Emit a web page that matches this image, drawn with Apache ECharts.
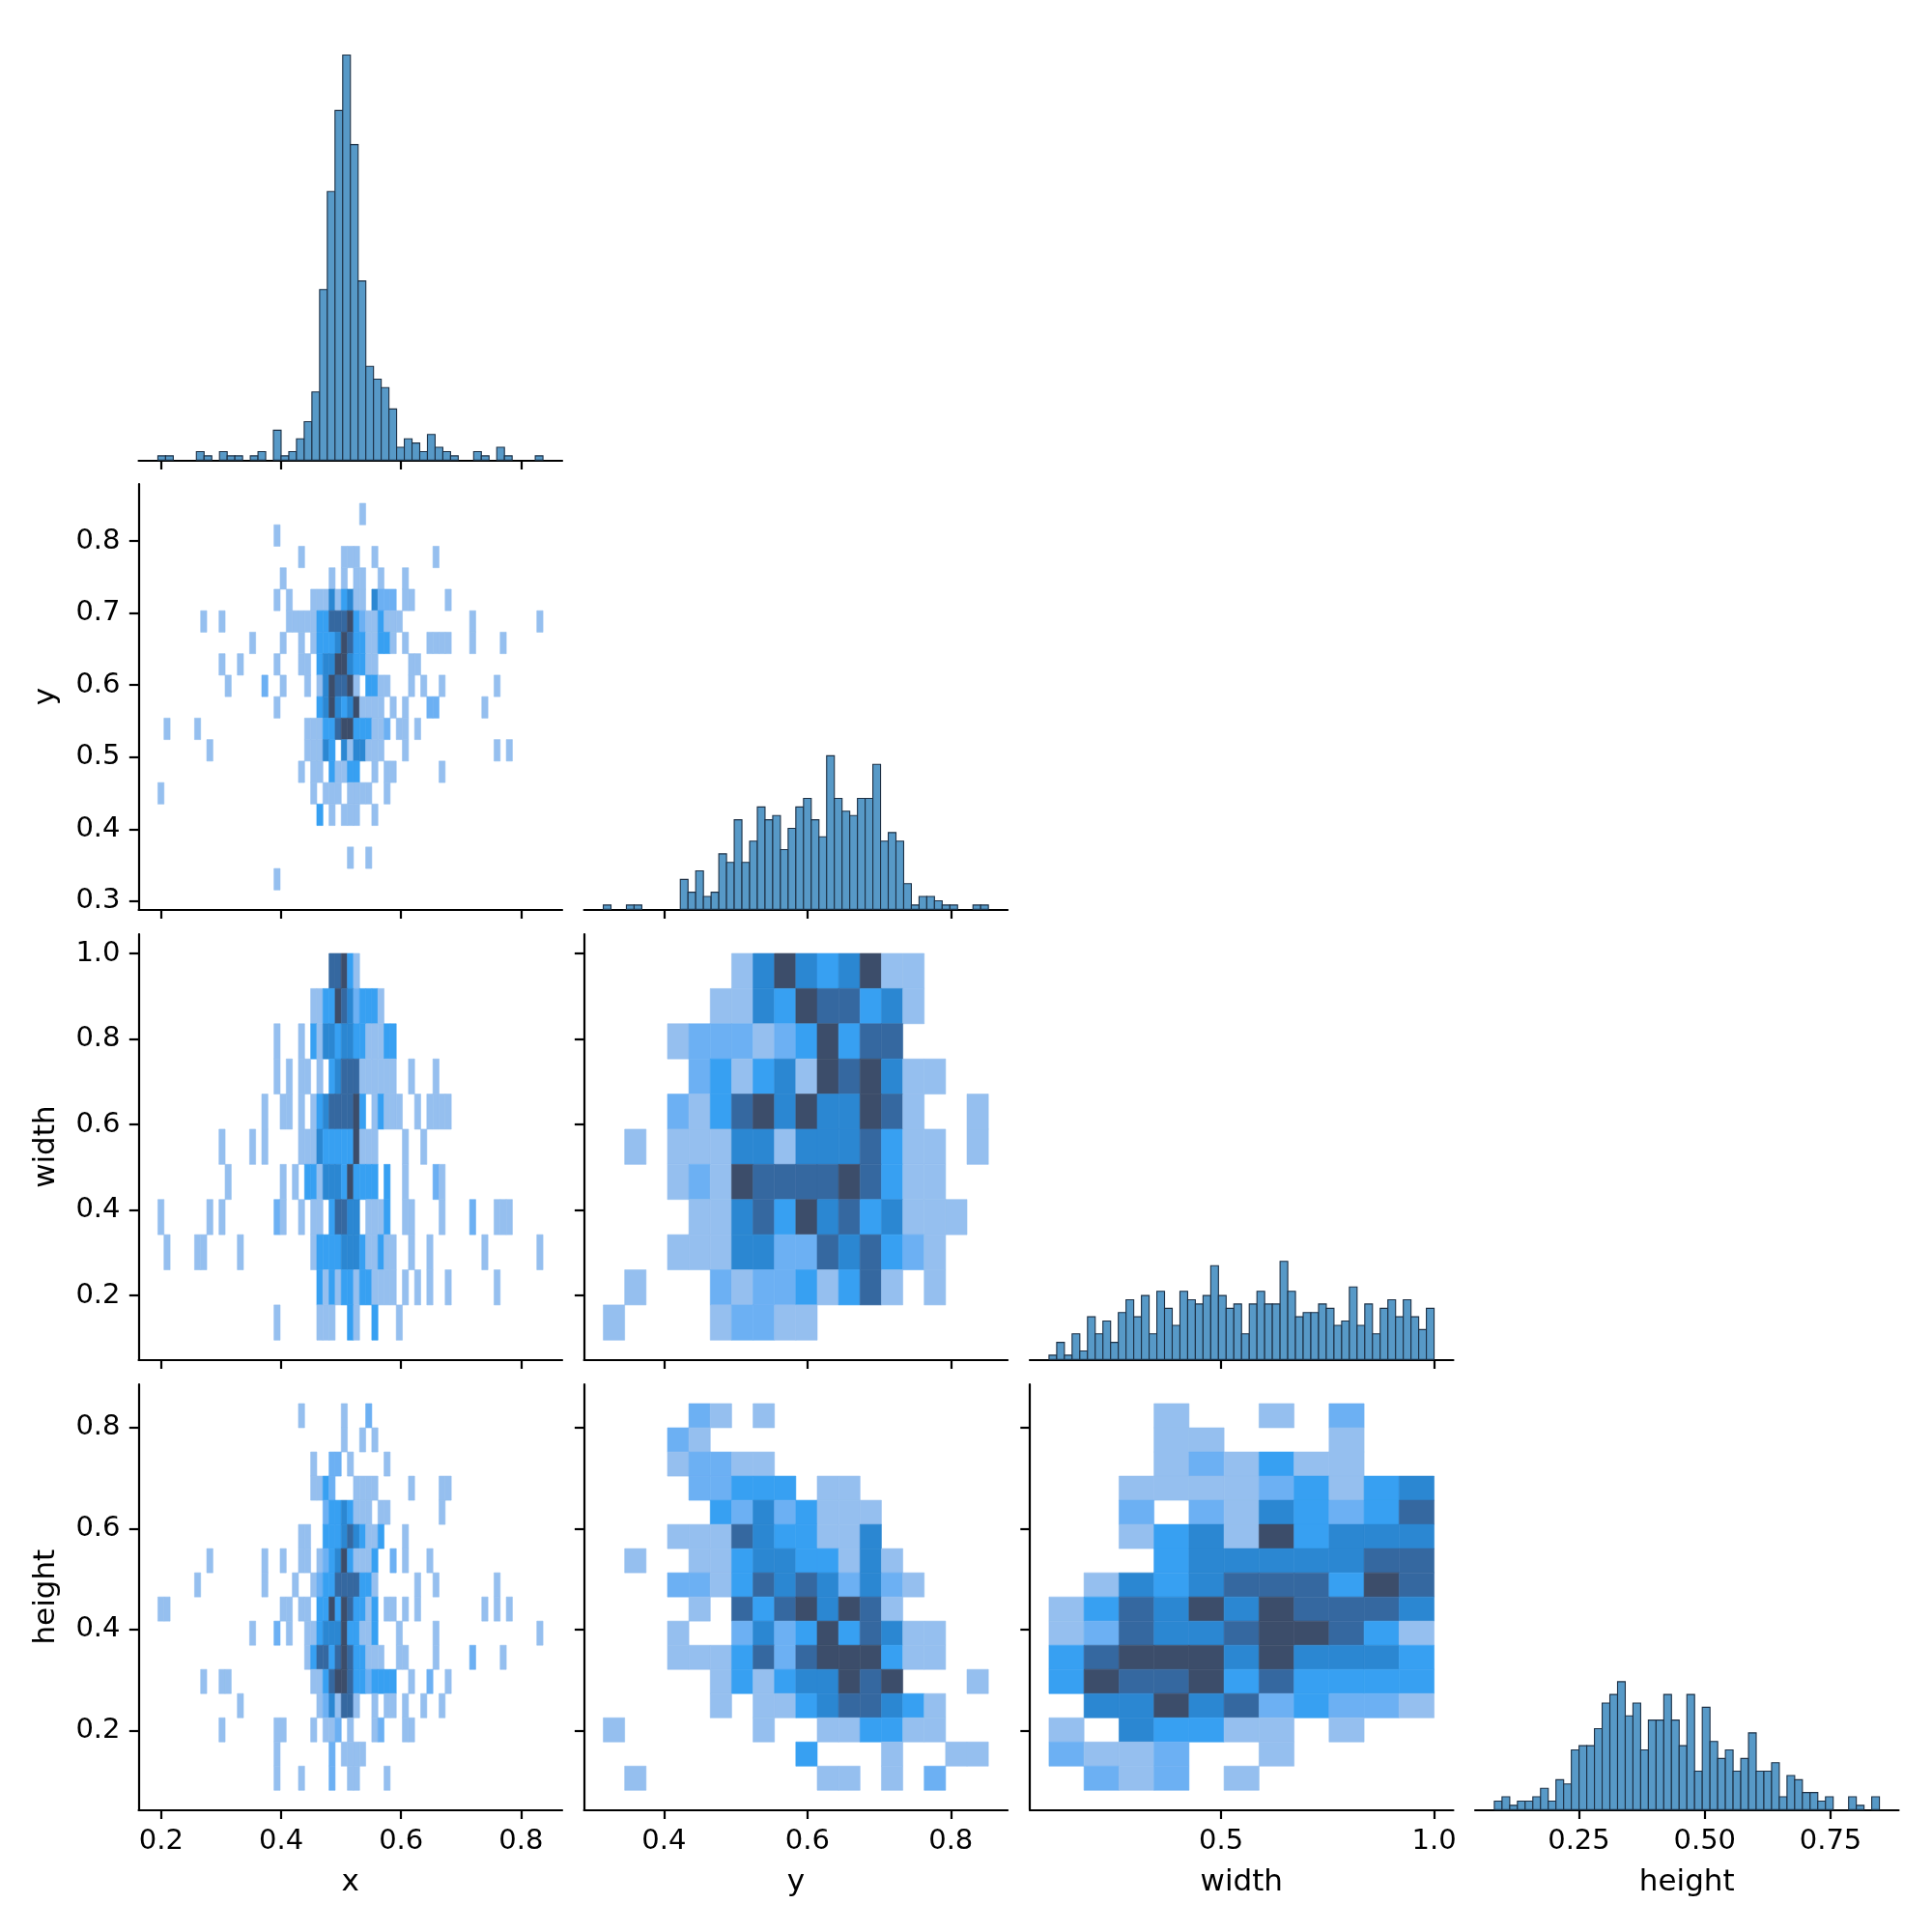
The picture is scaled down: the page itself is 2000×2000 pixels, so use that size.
<!DOCTYPE html>
<html>
<head>
<meta charset="utf-8">
<script src="https://cdn.jsdelivr.net/npm/echarts@6.0.0/dist/echarts.min.js"></script>
<style>
  html, body { margin: 0; background: #fff; }
  #chart { width: 2000px; height: 2000px; }
</style>
</head>
<body>
<div id="chart"></div>
<script>
// variable names in pair-grid order
const varNames = ['x', 'y', 'width', 'height'];

// data range of each variable (first and last bin edge)
const xRange = [0.1945, 0.8365];
const yRange = [0.3155, 0.8524];
const widthRange = [0.0956, 1.0];
const heightRange = [0.082, 0.847];

// diagonal histograms, 50 bins each
const xCounts = [1, 1, 0, 0, 0, 2, 1, 0, 2, 1, 1, 0, 1, 2, 0, 7, 1, 2, 5, 9,
  16, 40, 63, 82, 95, 74, 42, 22, 19, 17, 12, 3, 5, 4, 2, 6, 3, 2, 1, 0,
  0, 2, 1, 0, 3, 1, 0, 0, 0, 1];
const yCounts = [1, 0, 0, 1, 1, 0, 0, 0, 0, 0, 7, 4, 9, 3, 4, 13, 11, 21, 11, 16,
  24, 21, 22, 14, 19, 24, 26, 21, 17, 36, 26, 23, 22, 26, 26, 34, 16, 18, 16, 6,
  1, 3, 3, 2, 1, 1, 0, 0, 1, 1];
const widthCounts = [1, 4, 1, 6, 2, 10, 6, 9, 4, 11, 14, 10, 15, 6, 16, 12, 8, 16, 14, 13,
  15, 22, 15, 12, 13, 6, 13, 16, 13, 13, 23, 16, 10, 11, 11, 13, 12, 8, 9, 17,
  8, 13, 6, 12, 14, 10, 14, 10, 7, 12];
const heightCounts = [2, 3, 1, 2, 2, 3, 5, 2, 7, 6, 14, 15, 15, 19, 25, 27, 30, 22, 25, 14,
  21, 21, 27, 21, 15, 27, 9, 24, 16, 12, 14, 9, 12, 18, 9, 9, 11, 3, 8, 7,
  4, 4, 2, 3, 0, 0, 3, 1, 0, 3];

// number of bins used by the 2d histograms for each variable
const bins2d = [63, 18, 11, 16];

// 2d histogram shade levels (1 light .. 6 dark), top row first
// sparse rows: "column:level", dense rows: one digit per column
const xyCells = [
  '33:1',
  '19:1',
  '23:1,30:1,31:1,32:1,35:1,45:1',
  '20:1,28:1,30:1,32:1,33:1,36:1,40:1',
  '19:1,21:1,25:1,26:1,27:1,28:4,29:1,30:3,31:4,32:1,33:1,35:4,36:2,37:2,38:2,40:1,41:1,47:1',
  '7:1,10:1,21:1,22:1,23:1,24:1,25:1,26:3,27:3,28:5,29:5,30:5,31:6,32:3,33:2,34:1,35:1,36:3,37:1,38:1,39:1,51:1,62:1',
  '15:1,20:1,23:1,25:1,26:3,27:3,28:3,29:4,30:6,31:5,32:3,33:3,34:1,35:1,36:3,37:3,38:1,40:1,44:1,45:1,46:1,47:1,51:1,56:1',
  '10:1,13:1,19:1,23:1,24:1,26:3,27:4,28:4,29:6,30:6,31:4,32:3,33:3,34:1,35:1,41:1,42:1',
  '11:1,17:2,20:1,24:1,26:1,27:4,28:6,29:5,30:5,31:6,32:1,34:3,35:3,36:1,37:1,41:1,43:1,46:1,55:1',
  '19:1,26:3,27:4,28:6,29:4,30:3,31:4,32:6,33:1,34:1,35:1,36:1,38:1,40:1,44:2,45:2,53:1',
  '1:1,6:1,24:1,25:1,26:1,27:3,28:3,29:5,30:6,31:6,32:3,33:3,34:3,35:1,36:1,37:2,39:1,40:1,42:1',
  '8:1,24:1,25:1,26:1,27:4,28:3,30:4,31:1,32:4,33:4,34:1,35:1,36:1,40:1,55:1,57:1',
  '23:1,25:1,26:1,28:3,29:1,30:1,31:3,32:3,35:1,37:1,38:1,46:1',
  '0:1,25:1,27:1,28:1,29:1,31:1,32:1,33:1,34:1,37:1',
  '26:3,28:1,30:1,31:1,32:1,35:1',
  '',
  '31:1,34:1',
  '19:1'
];
const xwCells = [
  '28:5,29:5,30:6,31:3,32:1',
  '25:1,26:1,27:3,28:3,29:6,30:5,31:4,32:2,33:3,34:3,35:3,36:1',
  '19:1,23:1,25:3,26:1,27:4,28:4,29:3,30:4,31:4,32:3,33:3,34:1,35:1,36:1,37:3,38:3',
  '19:1,21:1,23:1,24:1,26:1,28:3,29:4,30:5,31:5,32:5,33:1,34:1,35:1,36:1,37:1,38:1,41:1,45:1',
  '17:1,20:1,21:1,23:1,25:1,26:3,27:4,28:5,29:5,30:5,31:5,32:6,33:3,35:1,36:3,37:1,38:1,39:1,42:1,44:1,45:1,46:1,47:1',
  '10:1,15:1,17:1,23:1,24:1,25:1,26:4,27:3,28:3,29:3,30:3,31:3,32:6,33:1,34:1,35:1,40:1,43:1',
  '11:1,20:1,22:1,24:3,25:3,26:1,27:4,28:4,29:4,30:3,31:6,32:3,33:3,34:3,35:3,37:3,40:1,45:2,46:1',
  '0:1,8:1,10:1,19:2,20:1,23:1,25:1,26:1,28:3,29:5,30:5,31:4,32:4,34:1,35:1,36:1,37:3,40:1,41:1,46:1,51:2,55:1,56:1,57:1',
  '1:1,6:1,7:1,13:1,25:1,26:3,27:3,28:3,29:3,30:4,31:4,32:4,33:3,34:1,35:1,36:3,37:1,38:1,41:1,44:1,53:1,62:1',
  '26:3,27:1,28:3,29:1,30:3,31:3,32:1,33:3,34:3,35:1,36:1,37:1,38:1,40:1,42:1,44:1,47:1,55:1',
  '19:1,26:1,27:1,28:1,31:3,32:1,35:3,39:1'
];
const xhCells = [
  '23:1,30:1,34:2',
  '30:1,33:1,35:1',
  '25:1,28:2,29:2,31:1,37:1',
  '25:1,26:1,27:3,28:2,32:1,33:1,34:1,35:1,41:1,46:1,47:1',
  '27:2,28:3,29:3,30:4,31:3,32:1,33:1,34:1,36:1,37:1,46:1',
  '23:1,24:1,27:3,28:3,29:3,30:4,31:5,32:4,33:3,34:1,35:1,36:3,40:1',
  '8:1,17:1,20:1,23:1,24:1,26:1,27:2,28:3,29:4,30:6,31:3,32:1,33:1,34:1,35:3,38:2,40:1,44:1',
  '6:1,17:1,22:1,25:1,26:2,27:3,28:3,29:5,30:5,31:5,32:5,33:3,34:3,35:1,42:1,45:1,55:1',
  '0:1,1:1,20:1,21:1,23:1,24:1,26:3,27:3,28:6,29:3,30:6,31:5,32:3,33:3,34:1,35:3,37:1,38:1,40:1,42:1,53:1,55:1,57:1',
  '15:1,19:2,21:1,24:1,25:1,26:3,27:4,28:4,29:4,30:6,31:3,32:3,33:1,34:1,35:3,39:1,45:1,62:1',
  '24:1,25:3,26:5,27:5,28:3,29:5,30:6,31:5,32:3,33:3,34:1,35:1,36:1,39:1,40:1,45:1,51:2,56:1',
  '7:1,10:1,11:1,25:1,26:1,27:3,28:5,29:6,30:6,31:5,32:3,33:3,34:2,35:3,36:3,37:3,38:3,41:1,44:2,47:1',
  '13:1,26:1,27:2,28:4,29:1,30:5,31:5,32:1,35:1,37:1,38:1,40:1,43:1,46:1',
  '10:1,19:1,20:1,25:1,27:1,28:1,29:2,31:1,35:1,36:2,40:1,41:1',
  '19:1,28:2,30:1,31:1,32:1,33:1',
  '19:1,23:1,28:2,31:1,32:1,37:1'
];
const ywCells = [
  '000000146434611000',
  '000001143655341000',
  '000122212363550000',
  '000023134165641100',
  '000213564644651001',
  '010111441444531101',
  '000121655556531100',
  '000011453645341110',
  '000111442254532100',
  '010002122313510100',
  '100001221100000000'
];
const yhCells = [
  '000021010000000000',
  '000210000000000000',
  '000122110000000000',
  '000022333011000000',
  '000003242311100000',
  '000111543311400000',
  '010011344331410000',
  '000221354542421000',
  '000010535646510000',
  '000100242363541100',
  '000111352566631100',
  '000001313446560001',
  '000001011345543100',
  '100000010011331100',
  '000000000300010011',
  '010000000011010200'
];
const whCells = [
  '00010010200',
  '00011000100',
  '00012131100',
  '00111123134',
  '00202143235',
  '00134163444',
  '00034444455',
  '01434555365',
  '13546465554',
  '12544566531',
  '35666464443',
  '36556353333',
  '04464523221',
  '10433110100',
  '21120010000',
  '02120100000'
];

// tick values: along each row (y axes) and along each column (x axes)
const rowTicks = [null, [0.3, 0.4, 0.5, 0.6, 0.7, 0.8], [0.2, 0.4, 0.6, 0.8, 1.0], [0.2, 0.4, 0.6, 0.8]];
const colTicks = [[0.2, 0.4, 0.6, 0.8], [0.4, 0.6, 0.8], [0.5, 1.0], [0.25, 0.5, 0.75]];
const colTickDigits = [1, 1, 1, 2];

const ranges = [xRange, yRange, widthRange, heightRange];
const counts = [xCounts, yCounts, widthCounts, heightCounts];
const cells = { '1-0': xyCells, '2-0': xwCells, '3-0': xhCells, '2-1': ywCells, '3-1': yhCells, '3-2': whCells };

// layout
const colLeft = [143.5, 604.6, 1066, 1527];
const rowTop = [36, 501, 967, 1433];
const panelW = 438.5, panelH = 440.3;
const diagMax = 99.75;

const shades = ['#95bfef', '#6cb0f3', '#37a0f2', '#2b87d2', '#3568a0', '#3c4d6a'];
const barFill = '#5799c7', barEdge = '#1d3045';
const font = 'DejaVu Sans';

function lim(r) {
  const pad = (r[1] - r[0]) * 0.05;
  return [r[0] - pad, r[1] + pad];
}

function parseRow(s) {
  if (s === '') return [];
  if (s.indexOf(':') >= 0) return s.split(',').map(t => t.split(':').map(Number));
  return s.split('').map((ch, i) => [i, +ch]).filter(d => d[1] > 0);
}

function heatData(c, r) {
  const rows = cells[r + '-' + c];
  const xr = ranges[c], yr = ranges[r];
  const bw = (xr[1] - xr[0]) / bins2d[c];
  const bh = (yr[1] - yr[0]) / bins2d[r];
  const out = [];
  rows.forEach((s, k) => {
    const ri = rows.length - 1 - k;
    parseRow(s).forEach(([ci, lv]) => {
      out.push([xr[0] + ci * bw, xr[0] + (ci + 1) * bw, yr[0] + ri * bh, yr[0] + (ri + 1) * bh, lv]);
    });
  });
  return out;
}

function histData(v) {
  const r = ranges[v], n = counts[v].length;
  const bw = (r[1] - r[0]) / n;
  return counts[v].map((cnt, i) => [r[0] + i * bw, r[0] + (i + 1) * bw, cnt]).filter(d => d[2] > 0);
}

const grids = [], xAxes = [], yAxes = [], series = [];
const lineStyle = { color: '#000', width: 2.2 };
const labelStyle = { color: '#000', fontSize: 29, fontFamily: font, margin: 19 };
const nameStyle = { color: '#000', fontSize: 31, fontFamily: font };

for (let r = 0; r < 4; r++) {
  for (let c = 0; c <= r; c++) {
    const g = grids.length;
    grids.push({ left: colLeft[c], top: rowTop[r], width: panelW, height: panelH });
    const bottom = r === 3, left = c === 0;
    const xl = lim(ranges[c]);
    xAxes.push({
      type: 'value', gridIndex: g, min: xl[0], max: xl[1],
      axisLine: { show: true, onZero: false, lineStyle },
      axisTick: { show: true, length: 9.7, lineStyle, customValues: colTicks[c] },
      axisLabel: Object.assign({ show: bottom, customValues: colTicks[c],
        formatter: v => v.toFixed(colTickDigits[c]) }, labelStyle),
      splitLine: { show: false },
      name: bottom ? varNames[c] : '', nameLocation: 'middle', nameGap: 60, nameTextStyle: nameStyle
    });
    if (r === c) {
      yAxes.push({ type: 'value', gridIndex: g, min: 0, max: diagMax, show: false });
      series.push({
        type: 'custom', xAxisIndex: g, yAxisIndex: g, data: histData(c),
        encode: { x: [0, 1], y: 2 },
        renderItem: (params, api) => {
          const p0 = api.coord([api.value(0), 0]);
          const p1 = api.coord([api.value(1), api.value(2)]);
          return { type: 'rect',
            shape: { x: p0[0], y: p1[1], width: p1[0] - p0[0], height: p0[1] - p1[1] },
            style: { fill: barFill, stroke: barEdge, lineWidth: 1.1 } };
        }
      });
    } else {
      const yl = lim(ranges[r]);
      yAxes.push({
        type: 'value', gridIndex: g, min: yl[0], max: yl[1],
        axisLine: { show: true, onZero: false, lineStyle },
        axisTick: { show: true, length: 9.7, lineStyle, customValues: rowTicks[r] },
        axisLabel: Object.assign({ show: left, customValues: rowTicks[r],
          formatter: v => v.toFixed(1) }, labelStyle),
        splitLine: { show: false },
        name: left ? varNames[r] : '', nameLocation: 'middle', nameGap: 80, nameTextStyle: nameStyle
      });
      series.push({
        type: 'custom', xAxisIndex: g, yAxisIndex: g, data: heatData(c, r),
        encode: { x: [0, 1], y: [2, 3] },
        renderItem: (params, api) => {
          const p0 = api.coord([api.value(0), api.value(2)]);
          const p1 = api.coord([api.value(1), api.value(3)]);
          const col = shades[api.value(4) - 1];
          return { type: 'rect',
            shape: { x: p0[0], y: p1[1], width: p1[0] - p0[0], height: p0[1] - p1[1] },
            style: { fill: col, stroke: col, lineWidth: 0.6 } };
        }
      });
    }
  }
}

const chart = echarts.init(document.getElementById('chart'), null, { renderer: 'canvas' });
chart.setOption({
  animation: false,
  backgroundColor: '#fff',
  grid: grids,
  xAxis: xAxes,
  yAxis: yAxes,
  series: series
});
</script>
</body>
</html>
